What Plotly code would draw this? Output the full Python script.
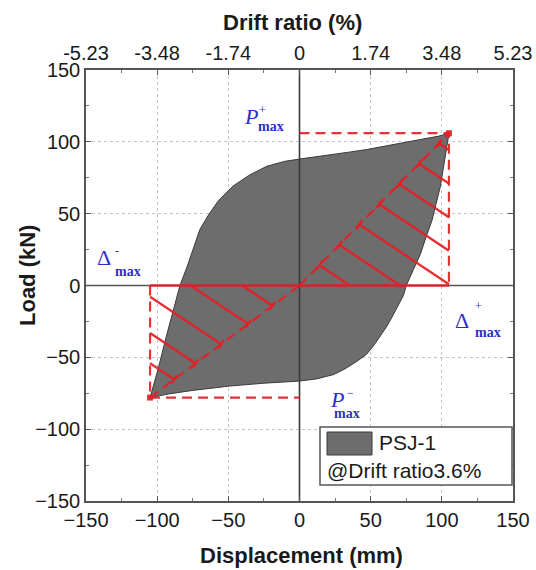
import plotly.graph_objects as go

# ---------------- data ----------------
# upper branch of the loop: from negative peak to positive peak
upper_x = [-105, -99, -94, -89, -84, -79, -75, -70, -64, -57, -47, -35, -23, -10, 0, 12, 24, 36, 47, 59, 71, 81, 90, 98, 105]
upper_y = [-78, -57, -37, -18, 0, 13, 25, 39, 49, 59, 69, 77, 83, 86.5, 88, 89.5, 91, 93, 94.6, 96.8, 99, 100.8, 102.5, 104, 106]
# lower branch: from positive peak back to negative peak
lower_x = [105, 103, 101, 99, 96, 93, 89, 85, 80, 75, 73, 69, 65, 61, 57, 52, 47, 40, 32, 24, 12, 0, -25, -49, -75, -92, -105]
lower_y = [106, 93, 81, 69, 57, 45, 34, 22, 11, 0, -7, -15, -22, -29, -35, -42, -48, -53, -58, -62, -65, -66.5, -68, -70, -73, -75.5, -78]

peak_pos = (105, 106)   # (displacement mm, load kN)
peak_neg = (-105, -78)

# hatch lines: x position (mm) where each line meets the diagonal
pos_hatch_x = [14, 28, 42, 56, 70, 84, 98]
neg_hatch_x = [-19, -36, -55, -73, -88]
hatch_slope = 0.66  # kN per mm

x_ticks = [-150, -100, -50, 0, 50, 100, 150]
y_ticks = [-150, -100, -50, 0, 50, 100, 150]
drift_labels = ['-5.23', '-3.48', '-1.74', '0', '1.74', '3.48', '5.23']

legend_name = 'PSJ-1'
legend_note = '@Drift ratio3.6%'

# ---------------- layout constants ----------------
W, H = 536, 570
ML, MR, MT, MB = 86, 23, 70, 69   # screen positions of the plot area
PW, PH = W - ML - MR, H - MT - MB
XR, YR = [-150, 150], [-150, 150]
ppx = PW / (XR[1] - XR[0])
ppy = PH / (YR[1] - YR[0])

RED = 'rgba(228,32,38,0.92)'
BLUE = '#2f2fc8'
SANS = 'Liberation Sans, Arial, sans-serif'
SERIF = 'Liberation Serif, Times New Roman, serif'

fig = go.Figure()

# hysteresis loop
loop_x = upper_x + lower_x[1:]
loop_y = upper_y + lower_y[1:]
fig.add_trace(go.Scatter(x=loop_x, y=loop_y, mode='lines', fill='toself',
                         fillcolor='#6d6d6d', line=dict(color='#3a3a3a', width=1),
                         hoverinfo='skip', showlegend=False))

# axis zero lines (drawn over the fill)
fig.add_trace(go.Scatter(x=[0, 0], y=YR, mode='lines', line=dict(color='#3a3a3a', width=1.6),
                         hoverinfo='skip', showlegend=False))
fig.add_trace(go.Scatter(x=XR, y=[0, 0], mode='lines', line=dict(color='#555555', width=1.6),
                         hoverinfo='skip', showlegend=False))

dp, pp = peak_pos
dn, pn = peak_neg

# hatch lines
hx, hy = [], []
cx, cy = [], []
vx, vy = ppx * 1.0, ppy * hatch_slope
norm = (vx ** 2 + vy ** 2) ** 0.5
cap = 5.0
pdx = (vy / norm) * cap / ppx
pdy = (vx / norm) * cap / ppy
for xd in pos_hatch_x:
    yd = xd * pp / dp
    t = min(yd / hatch_slope, dp - xd)
    hx += [xd, xd + t, None]
    hy += [yd, yd - hatch_slope * t, None]
    cx += [xd - pdx, xd + pdx, None]
    cy += [yd - pdy, yd + pdy, None]
for xd in neg_hatch_x:
    yd = xd * pn / dn
    t = min(-yd / hatch_slope, xd - dn)
    hx += [xd, xd - t, None]
    hy += [yd, yd + hatch_slope * t, None]
    cx += [xd - pdx, xd + pdx, None]
    cy += [yd - pdy, yd + pdy, None]
fig.add_trace(go.Scatter(x=hx, y=hy, mode='lines', line=dict(color=RED, width=2.4),
                         hoverinfo='skip', showlegend=False))
fig.add_trace(go.Scatter(x=cx, y=cy, mode='lines', line=dict(color=RED, width=2.4),
                         hoverinfo='skip', showlegend=False))

# dashed triangles / rectangles
dash = dict(color=RED, width=2.2, dash='10px,6px')
fig.add_trace(go.Scatter(x=[0, dp, dp, None, 0, dp, None, dn, dn, 0, None, dn, 0],
                         y=[pp, pp, 0, None, 0, pp, None, 0, pn, pn, None, pn, 0],
                         mode='lines', line=dash, hoverinfo='skip', showlegend=False))
# solid zero-load red line
fig.add_trace(go.Scatter(x=[dn, dp], y=[0, 0], mode='lines', line=dict(color=RED, width=2.6),
                         hoverinfo='skip', showlegend=False))
# peak markers
fig.add_trace(go.Scatter(x=[dp, dn], y=[pp, pn], mode='markers',
                         marker=dict(symbol='square', size=6, color=RED),
                         hoverinfo='skip', showlegend=False))

# top axis helper trace
fig.add_trace(go.Scatter(x=[0], y=[0], xaxis='x2', mode='markers', marker=dict(opacity=0),
                         hoverinfo='skip', showlegend=False))

axis_common = dict(showline=True, linecolor='#555555', linewidth=1.5,
                   ticks='inside', ticklen=5, tickcolor='#555555', tickwidth=1,
                   showgrid=True, gridcolor='#c4c4c4', griddash='dot', gridwidth=1,
                   zeroline=False,
                   tickfont=dict(family=SANS, size=20, color='#1a1a1a'),
                   minor=dict(ticks='inside', ticklen=3, tickcolor='#777777', dtick=25,
                              showgrid=False))

fig.update_layout(
    width=W, height=H,
    margin=dict(l=ML, r=MR, t=MT, b=MB, autoexpand=False),
    paper_bgcolor='white', plot_bgcolor='white',
    xaxis=dict(range=XR, tickvals=x_ticks, mirror=True, **axis_common),
    yaxis=dict(range=YR, tickvals=y_ticks, mirror='ticks', **axis_common),
    xaxis2=dict(range=XR, overlaying='x', side='top', tickvals=x_ticks, ticktext=drift_labels,
                **{k: v for k, v in axis_common.items() if k not in ('showgrid',)}, showgrid=False),
    showlegend=False,
)

def px2data(px, py):
    return (XR[0] + (px - ML) / ppx, YR[1] - (py - MT) / ppy)

annotations = []
annotations.append(dict(text='Displacement (mm)', xref='paper', yref='paper', x=(301 - ML) / PW,
                        y=(MT + PH - 555) / PH, showarrow=False,
                        font=dict(family=SANS, size=22, color='#1a1a1a'), xanchor='center', yanchor='middle'))
annotations.append(dict(text='Drift ratio (%)', xref='paper', yref='paper', x=(292 - ML) / PW,
                        y=(MT + PH - 23) / PH, showarrow=False,
                        font=dict(family=SANS, size=22, color='#1a1a1a'), xanchor='center', yanchor='middle'))
annotations.append(dict(text='Load (kN)', xref='paper', yref='paper', x=(27 - ML) / PW,
                        y=(MT + PH - 276) / PH, showarrow=False, textangle=-90,
                        font=dict(family=SANS, size=22, color='#1a1a1a'), xanchor='center', yanchor='middle'))
for a in annotations:
    a['text'] = '<b>' + a['text'] + '</b>'

def label(main, sup, italic, mx, my, sx, sy, bx, by):
    out = []
    t = '<i>%s</i>' % main if italic else main
    x, y = px2data(mx, my)
    out.append(dict(text=t, x=x, y=y, xref='x', yref='y', showarrow=False,
                    font=dict(family=SERIF, size=22, color=BLUE), xanchor='center', yanchor='middle'))
    x, y = px2data(sx, sy)
    out.append(dict(text=sup, x=x, y=y, xref='x', yref='y', showarrow=False,
                    font=dict(family=SERIF, size=12, color=BLUE), xanchor='center', yanchor='middle'))
    x, y = px2data(bx, by)
    out.append(dict(text='<b>max</b>', x=x, y=y, xref='x', yref='y', showarrow=False,
                    font=dict(family=SERIF, size=14, color=BLUE), xanchor='center', yanchor='middle'))
    return out

annotations += label('P', '+', True, 251, 116, 262, 110, 271, 126)
annotations += label('Δ', '-', False, 104, 257, 117, 251, 128, 271)
annotations += label('Δ', '+', False, 462, 320, 478, 306, 488, 332)
annotations += label('P', '−', True, 337, 399, 350, 393, 347, 413)

# legend (manual box)
def pxp(px, py):
    return ((px - ML) / PW, (MT + PH - py) / PH)

bx0, by0 = pxp(320, 427)
bx1, by1 = pxp(512, 485)
sx0, sy0 = pxp(327, 432)
sx1, sy1 = pxp(372, 455)
shapes = [
    dict(type='rect', xref='paper', yref='paper', x0=bx0, y0=by0, x1=bx1, y1=by1,
         line=dict(color='#555555', width=1.5), fillcolor='white', layer='above'),
    dict(type='rect', xref='paper', yref='paper', x0=sx0, y0=sy0, x1=sx1, y1=sy1,
         line=dict(color='#3a3a3a', width=1), fillcolor='#6d6d6d', layer='above'),
]
tx, ty = pxp(377, 442)
annotations.append(dict(text=legend_name, xref='paper', yref='paper', x=tx, y=ty, showarrow=False,
                        xanchor='left', yanchor='middle', font=dict(family=SANS, size=21, color='#1a1a1a')))
tx, ty = pxp(325, 470)
annotations.append(dict(text=legend_note, xref='paper', yref='paper', x=tx, y=ty, showarrow=False,
                        xanchor='left', yanchor='middle', font=dict(family=SANS, size=21, color='#1a1a1a')))

fig.update_layout(annotations=annotations, shapes=shapes)
fig.write_html("out.html", config={'displayModeBar': False},
               post_script="document.body.style.margin='0';document.body.style.overflow='hidden';")
